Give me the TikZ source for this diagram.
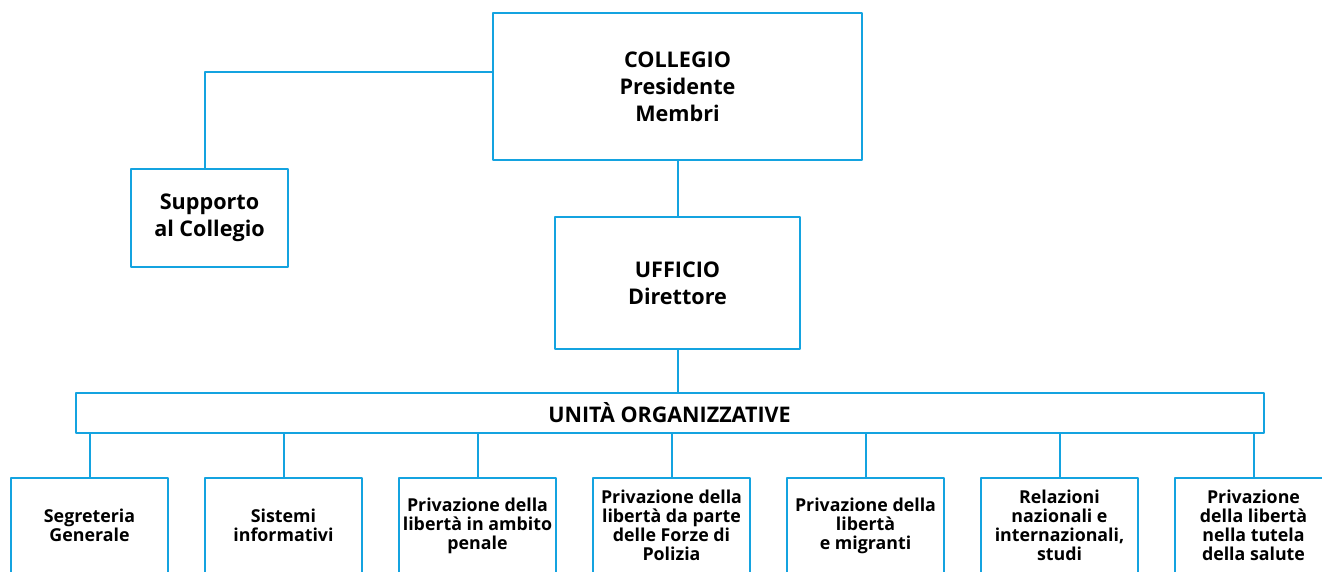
\documentclass[tikz,border=0pt]{standalone}
\usepackage{fontspec}
\setmainfont{Open Sans}
\definecolor{orgblue}{RGB}{20,163,224}
\tikzset{
  unitbox/.style={draw=orgblue, line width=2pt, align=center, font=\bfseries, inner sep=0pt},
  topbox/.style={unitbox, font=\fontsize{21.6}{27}\selectfont\bfseries},
  leafbox/.style={unitbox, minimum width=157pt, minimum height=96pt, font=\fontsize{17.8}{19}\selectfont\bfseries},
  link/.style={draw=orgblue, line width=2pt}
}
\begin{document}
\begin{tikzpicture}[x=1pt, y=-1pt, line join=round]
\useasboundingbox (0,0) rectangle (1322,572);
\clip (0,0) rectangle (1322,572);
% upper part
\node[topbox, minimum width=369pt, minimum height=147pt] (collegio) at (677.5,86.5) {COLLEGIO\\Presidente\\Membri};
\node[topbox, minimum width=157pt, minimum height=98pt] (supporto) at (209.5,218) {Supporto\\al Collegio};
\node[topbox, minimum width=245pt, minimum height=132pt] (ufficio) at (677.5,283) {UFFICIO\\Direttore};
\node[unitbox, minimum width=1188pt, minimum height=40pt, font=\fontsize{21.5}{22}\selectfont\bfseries] (unita) at (669.5,413) {UNITÀ ORGANIZZATIVE};
% lower boxes
\foreach \i/\t in {1/{Segreteria\\Generale},
                   2/{Sistemi\\informativi},
                   3/{Privazione della\\libertà in ambito\\penale},
                   4/{Privazione della\\libertà da parte\\delle Forze di\\Polizia},
                   5/{Privazione della\\libertà\\e migranti},
                   6/{Relazioni\\nazionali e\\internazionali,\\studi},
                   7/{Privazione\\della libertà\\nella tutela\\della salute}}
  \node[leafbox] (b\i) at ({89.5+194*(\i-1)},525.5) {\t};
% connectors
\draw[link] ([yshift=14.5pt]collegio.west) -| ([xshift=-4.5pt]supporto.north);
\draw[link] (collegio.south) -- (ufficio.north);
\draw[link] (ufficio.south) -- (ufficio.south |- unita.north);
\foreach \i in {1,...,7}
  \draw[link] (unita.south -| b\i.north) -- (b\i.north);
\end{tikzpicture}
\end{document}
